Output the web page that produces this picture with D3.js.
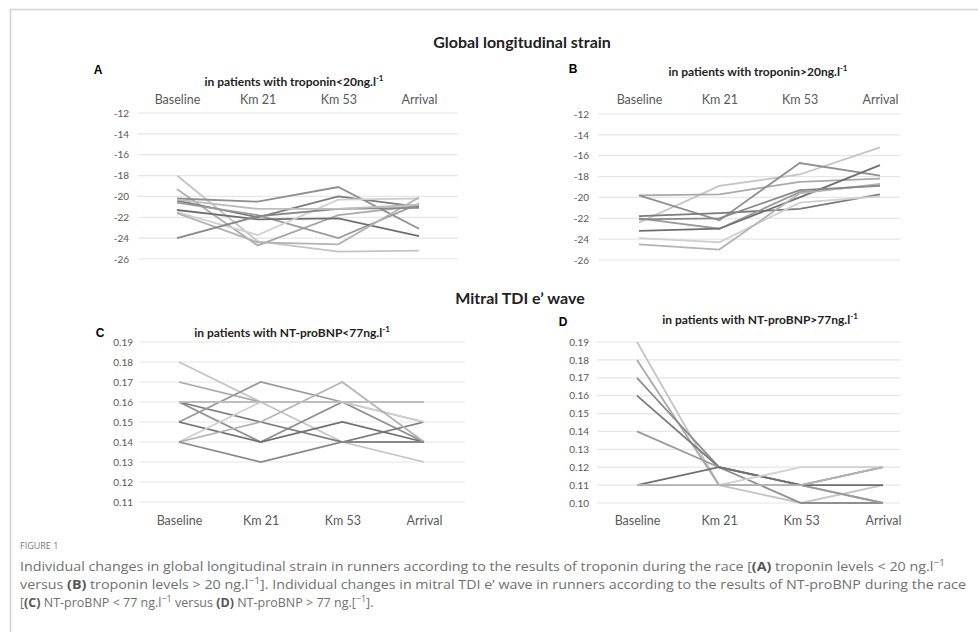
<!DOCTYPE html>
<html>
<head>
<meta charset="utf-8">
<script src="https://cdn.jsdelivr.net/npm/d3@7"></script>
<style>
  body { margin: 0; background: #fff; }
  svg { display: block; }
</style>
</head>
<body>
<script>
// time points, same for every panel
var categories = ['Baseline', 'Km 21', 'Km 53', 'Arrival'];

var ticksGLS = [-12, -14, -16, -18, -20, -22, -24, -26];
var ticksC = [0.19, 0.18, 0.17, 0.16, 0.15, 0.14, 0.13, 0.12, 0.11];
var ticksD = [0.19, 0.18, 0.17, 0.16, 0.15, 0.14, 0.13, 0.12, 0.11, 0.10];

// A: troponin < 20
var seriesA = [
  [-18.0, -24.3, -25.3, -25.2],
  [-19.3, -24.7, -21.8, -20.9],
  [-20.2, -20.5, -19.1, -23.1],
  [-20.4, -22.0, -20.0, -21.0],
  [-20.6, -21.8, -24.0, -20.7],
  [-21.3, -22.2, -22.1, -23.8],
  [-21.5, -23.7, -20.3, -20.2],
  [-21.6, -24.4, -24.6, -20.1],
  [-24.0, -21.9, -21.2, -21.1],
  [-20.3, -21.2, -21.2, -20.8]
];
// B: troponin > 20
var seriesB = [
  [-22.4, -18.9, -17.8, -15.2],
  [-19.8, -19.7, -18.5, -18.2],
  [-19.8, -22.2, -16.7, -17.9],
  [-21.8, -21.5, -21.1, -19.7],
  [-22.0, -23.0, -19.5, -18.8],
  [-23.2, -23.0, -20.0, -16.9],
  [-23.9, -24.3, -20.5, -19.9],
  [-24.5, -25.0, -19.6, -18.7],
  [-22.1, -22.0, -19.3, -18.9]
];
// C: NT-proBNP < 77
var seriesC = [
  [0.18, 0.16, 0.14, 0.13],
  [0.17, 0.16, 0.16, 0.16],
  [0.16, 0.14, 0.16, 0.14],
  [0.16, 0.15, 0.14, 0.15],
  [0.15, 0.17, 0.16, 0.15],
  [0.15, 0.14, 0.15, 0.14],
  [0.14, 0.16, 0.16, 0.15],
  [0.14, 0.15, 0.17, 0.14],
  [0.14, 0.13, 0.14, 0.14],
  [0.16, 0.16, 0.16, 0.16]
];
// D: NT-proBNP > 77
var seriesD = [
  [0.19, 0.11, 0.10, 0.11],
  [0.18, 0.11, 0.11, 0.10],
  [0.17, 0.12, 0.10, 0.10],
  [0.16, 0.12, 0.11, 0.12],
  [0.14, 0.12, 0.11, 0.10],
  [0.11, 0.12, 0.11, 0.11],
  [0.11, 0.11, 0.12, 0.12],
  [0.11, 0.11, 0.11, 0.12]
];

var greys = ['#c4c4c4', '#a9a9a9', '#8f8f8f', '#7b7b7b', '#9a9a9a', '#6f6f6f', '#d0d0d0', '#b3b3b3', '#888888', '#bdbdbd'];

var W = 978, H = 635;
var svg = d3.select('body').append('svg')
  .attr('width', W)
  .attr('height', H);

// frame, top and left only
svg.append('path')
  .attr('d', 'M10.5,632 L10.5,9.5 L978,9.5')
  .attr('fill', 'none')
  .attr('stroke', '#d3d3d3')
  .attr('stroke-width', 1.5);

var font = 'Lato, "Open Sans", sans-serif';

function drawPanel(cfg) {
  var g = svg.append('g');
  var x = d3.scalePoint().domain(categories).range(cfg.xr);
  var y = d3.scaleLinear().domain(cfg.yd).range(cfg.yr);

  // grid
  g.selectAll('.grid')
    .data(cfg.ticks)
    .enter()
    .append('line')
    .attr('x1', cfg.gx[0])
    .attr('x2', cfg.gx[1])
    .attr('y1', function(d) { return y(d); })
    .attr('y2', function(d) { return y(d); })
    .attr('stroke', '#e6e6e6')
    .attr('stroke-width', 1.2);

  // y labels
  var ya = g.append('g')
    .attr('transform', 'translate(' + cfg.labelX + ',0)')
    .call(d3.axisLeft(y).tickValues(cfg.ticks).tickSize(0).tickPadding(0).tickFormat(cfg.fmt));
  ya.select('.domain').remove();
  ya.selectAll('text')
    .attr('fill', '#595959')
    .style('font-family', font)
    .style('font-size', '10px');

  // category labels
  var xa = g.append('g')
    .attr('transform', 'translate(0,' + cfg.catY + ')')
    .call((cfg.catTop ? d3.axisTop(x) : d3.axisBottom(x)).tickSize(0).tickPadding(0));
  xa.select('.domain').remove();
  xa.selectAll('text')
    .attr('fill', '#595959')
    .attr('dy', cfg.catTop ? '0' : '0.71em')
    .style('font-family', font)
    .style('font-size', '12.5px');

  var line = d3.line()
    .x(function(d, i) { return x(categories[i]); })
    .y(function(d) { return y(d); });

  g.selectAll('.series')
    .data(cfg.series)
    .enter()
    .append('path')
    .attr('d', line)
    .attr('fill', 'none')
    .attr('stroke', function(d, i) { return greys[i % greys.length]; })
    .attr('stroke-width', 1.8);

  // subtitle with superscript
  var t = g.append('text')
    .attr('x', cfg.subX)
    .attr('y', cfg.subY)
    .attr('text-anchor', 'middle')
    .attr('fill', '#222')
    .style('font-family', font)
    .style('font-weight', 'bold')
    .style('font-size', '12px')
    .text(cfg.sub);
  t.append('tspan')
    .attr('dy', -5)
    .style('font-size', '8px')
    .text('-1');

  g.append('text')
    .attr('x', cfg.letter[0])
    .attr('y', cfg.letter[1])
    .attr('text-anchor', 'middle')
    .style('font-family', '"Liberation Sans", Arial, sans-serif')
    .style('font-weight', 'bold')
    .style('font-size', '12px')
    .text(cfg.name);
}

// plain hyphen like the spreadsheet labels
var fmtGLS = function(d) { return String(d); };
var fmtE = d3.format('.2f');

drawPanel({ name: 'A', series: seriesA, ticks: ticksGLS, fmt: fmtGLS,
  yd: [-26, -12], yr: [259, 113], xr: [177, 419], gx: [138, 458], labelX: 129,
  catY: 104, catTop: true, sub: 'in patients with troponin<20ng.l', subX: 294, subY: 86, letter: [98, 74] });
drawPanel({ name: 'B', series: seriesB, ticks: ticksGLS, fmt: fmtGLS,
  yd: [-26, -12], yr: [260, 114], xr: [639, 880], gx: [598, 900], labelX: 589,
  catY: 104, catTop: true, sub: 'in patients with troponin>20ng.l', subX: 758, subY: 76, letter: [573, 73] });
drawPanel({ name: 'C', series: seriesC, ticks: ticksC, fmt: fmtE,
  yd: [0.11, 0.19], yr: [502, 342], xr: [179, 424], gx: [140, 465], labelX: 133,
  catY: 516, catTop: false, sub: 'in patients with NT-proBNP<77ng.l', subX: 292, subY: 337, letter: [100, 337] });
drawPanel({ name: 'D', series: seriesD, ticks: ticksD, fmt: fmtE,
  yd: [0.10, 0.19], yr: [503, 342], xr: [637, 883], gx: [597, 900], labelX: 589,
  catY: 516, catTop: false, sub: 'in patients with NT-proBNP>77ng.l', subX: 760, subY: 324, letter: [563, 326] });

// section titles
svg.append('text')
  .attr('x', 522).attr('y', 48)
  .attr('text-anchor', 'middle')
  .attr('fill', '#222')
  .style('font-family', font)
  .style('font-weight', 'bold')
  .style('font-size', '16px')
  .text('Global longitudinal strain');
svg.append('text')
  .attr('x', 520).attr('y', 304)
  .attr('text-anchor', 'middle')
  .attr('fill', '#222')
  .style('font-family', font)
  .style('font-weight', 'bold')
  .style('font-size', '16px')
  .text("Mitral TDI e\u2019 wave");

// caption
var capFont = '"Open Sans", "Noto Sans", sans-serif';
svg.append('text')
  .attr('x', 20).attr('y', 549)
  .attr('fill', '#777')
  .style('font-family', capFont)
  .style('font-size', '9px')
  .text('FIGURE 1');

var capLines = [
  [['Individual changes in global longitudinal strain in runners according to the results of troponin during the race [', 0], ['(A)', 1], [' troponin levels < 20 ng.l', 0], ['\u22121', 2]],
  [['versus ', 0], ['(B)', 1], [' troponin levels > 20 ng.l', 0], ['\u22121', 2], ['].  Individual changes in mitral TDI e\u2019 wave in runners according to the results of NT-proBNP during the race', 0]],
  [['[', 0], ['(C)', 1], [' NT-proBNP < 77 ng.l', 0], ['\u22121', 2], [' versus ', 0], ['(D)', 1], [' NT-proBNP > 77 ng.[', 0], ['\u22121', 2], ['].', 0]]
];
var capY = [571, 589, 607];
var capW = [925, 946, null];
capLines.forEach(function(parts, li) {
  var t = svg.append('text')
    .attr('x', 20).attr('y', capY[li])
    .attr('fill', '#707070')
    .style('font-family', capFont)
    .style('font-size', '12.5px');
  if (capW[li]) t.attr('textLength', capW[li]).attr('lengthAdjust', 'spacingAndGlyphs');
  var prevSup = false;
  parts.forEach(function(p) {
    var s = t.append('tspan').text(p[0]);
    if (p[1] == 1) s.style('font-weight', 'bold').attr('fill', '#555');
    if (p[1] == 2) { s.attr('dy', -5).style('font-size', '9px'); prevSup = true; }
    else if (prevSup) { s.attr('dy', 5); prevSup = false; }
  });
});
</script>
</body>
</html>
